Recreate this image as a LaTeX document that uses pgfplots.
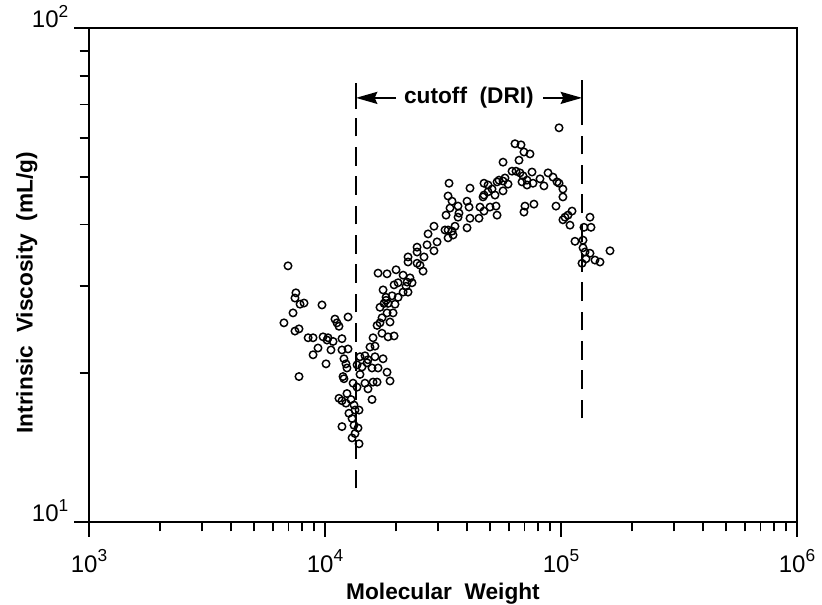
\documentclass[border=0pt]{standalone}
\usepackage{fontspec}
\setmainfont{Liberation Sans}
\usepackage{pgfplots}
\pgfplotsset{compat=1.18}
\usetikzlibrary{arrows.meta}

\newcommand{\tenpow}[1]{10\raisebox{0.85ex}{\fontsize{13}{13}\selectfont #1}}

% intrinsic viscosity vs molecular weight
\pgfplotstableread{
M eta
6970 33.0
7530 29.1
7460 28.4
7840 27.6
8150 27.75
9710 27.5
7320 26.5
6700 25.3
7460 24.35
7760 24.6
11020 25.75
11240 25.3
11460 24.9
12520 26.0
8480 23.6
8900 23.6
9810 23.7
10200 23.35
10300 23.6
10820 23.2
11800 23.5
9340 22.5
8900 21.8
10600 22.3
11800 22.3
12520 22.4
10100 20.9
12030 21.4
12270 20.9
12390 20.5
7760 19.7
11920 19.7
12030 19.5
13150 19.1
11460 17.8
11800 17.6
12390 18.2
12270 17.4
12890 17.7
13270 17.25
12630 16.6
13400 16.85
13940 16.85
11800 15.6
13020 16.2
13270 15.7
13800 15.5
13400 15.1
13020 14.8
13940 14.4
15820 17.7
13670 18.75
14070 21.6
14770 21.7
15210 21.3
16290 21.6
17620 21.4
13670 20.8
14350 20.6
15070 21.0
15820 20.5
16780 20.5
18320 20.1
18860 19.3
14070 19.9
14770 19.1
15980 19.2
16620 19.2
15210 18.6
15510 22.6
16290 22.7
15980 23.6
18500 23.7
19620 23.8
17440 24.1
16620 25.0
17100 25.3
17440 25.9
18860 25.4
18320 26.5
19430 26.5
17100 27.2
17790 27.7
18500 27.7
19800 27.6
18140 28.5
19240 28.7
20400 28.5
17620 29.5
19620 30.2
20400 30.5
21420 29.2
22480 29.2
23380 30.5
22920 31.2
21420 31.6
18320 31.8
16780 31.9
20000 32.4
26030 32.2
22050 30.0
22270 30.6
18140 28.1
22480 33.6
22480 34.4
24550 33.4
25270 33.1
26280 34.4
24550 36.0
24550 35.2
27060 36.4
28960 35.4
29840 36.9
27330 38.3
28960 39.7
32250 39.0
33220 39.0
34540 38.8
33220 37.6
34880 38.1
35550 39.7
32570 41.8
36620 41.4
33860 43.2
36960 42.2
36620 43.6
34540 44.6
33220 45.7
33540 48.5
39980 39.4
41150 41.2
44920 41.2
39980 44.6
40770 43.4
41150 47.4
45370 43.4
47180 42.6
50020 43.4
53050 43.6
53580 41.8
46730 45.5
47180 45.9
49070 46.6
49070 48.1
47180 48.5
51020 47.2
52520 45.9
53580 48.8
54590 49.2
56800 49.0
57900 49.7
59640 48.3
56800 46.8
56800 53.5
63830 58.3
67690 58.0
69670 56.1
73890 55.6
66380 54.0
62010 51.3
64470 51.3
67020 50.9
75370 51.1
88100 50.9
69030 50.2
71780 49.2
68360 48.8
71780 48.1
76110 48.5
81460 49.5
84680 47.9
92500 49.9
96190 48.8
98100 48.5
101880 47.2
101880 45.5
95240 43.6
76800 44.0
70370 43.6
69670 42.4
98100 62.8
111340 42.6
107080 41.8
103960 41.4
101880 40.9
109160 39.9
132680 41.4
125100 39.5
134000 39.5
114620 37.0
123960 37.2
123960 35.9
126360 35.2
132680 35.0
139310 33.9
146270 33.6
122760 33.4
127620 34.1
161300 35.4
}\viscdata

\begin{document}
\begin{tikzpicture}
\begin{axis}[
  scale only axis,
  width=531pt, height=370.5pt,
  xmode=log, ymode=log,
  xmin=1e3, xmax=1e6, ymin=10, ymax=100,
  axis line style={line width=1.8pt},
  tick align=outside,
  xtick pos=bottom, ytick pos=left,
  major tick length=11pt, minor tick length=7pt,
  every tick/.style={line width=1.4pt, black},
  xtick={1e3,1e4,1e5,1e6},
  xticklabels={\tenpow{3},\tenpow{4},\tenpow{5},\tenpow{6}},
  minor xtick={2e3,3e3,4e3,5e3,6e3,7e3,8e3,9e3,2e4,3e4,4e4,5e4,6e4,7e4,8e4,9e4,2e5,3e5,4e5,5e5,6e5,7e5,8e5,9e5},
  ytick={10,100},
  yticklabels={\tenpow{1},\tenpow{2}},
  minor ytick={20,30,40,50,60,70,80,90},
  yticklabel style={font=\fontsize{18}{20}\selectfont, anchor=base east, xshift=-1pt},
  xticklabel style={font=\fontsize{18}{20}\selectfont, anchor=base, yshift=-27pt},
  xlabel={\bfseries Molecular\ \ Weight},
  ylabel={\bfseries Intrinsic\ \ Viscosity\ \ (mL/g)},
  label style={font=\fontsize{17}{20}\selectfont},
  xlabel style={at={(axis description cs:0.5,0)}, anchor=base, yshift=-58pt},
  ylabel style={at={(axis description cs:-0.088,0.464)}, anchor=center},
  clip=false,
]
\addplot[only marks, mark=o, mark size=2.8pt, mark options={line width=1.1pt, black}] table[x=M, y=eta] {\viscdata};

% cutoff lines
\addplot[dashed, dash pattern=on 14pt off 8pt, line width=1.5pt, no markers] coordinates {(13530,11.7) (13530,78.9)};
\addplot[dashed, dash pattern=on 14pt off 8pt, line width=1.5pt, no markers] coordinates {(122760,16.2) (122760,78.5)};
\addplot[line width=1.5pt, no markers] coordinates {(13530,68.5) (13530,77.5)};
\addplot[line width=1.5pt, no markers] coordinates {(122760,68.5) (122760,77.5)};

\draw[line width=1.5pt, -{Stealth[length=16pt,width=9pt,inset=2pt]}] (axis cs:20000,72.2) -- (axis cs:13530,72.2);
\draw[line width=1.5pt, -{Stealth[length=16pt,width=9pt,inset=2pt]}] (axis cs:83900,72.2) -- (axis cs:122760,72.2);
\node[font=\fontsize{17}{20}\selectfont\bfseries] at (axis cs:40740,72.2) {cutoff\ \ (DRI)};
\end{axis}
\pgfresetboundingbox
\path[use as bounding box] (current axis.south west) ++(-66.75pt,-62.25pt) rectangle ++(616.5pt,453.75pt);
\end{tikzpicture}
\end{document}
